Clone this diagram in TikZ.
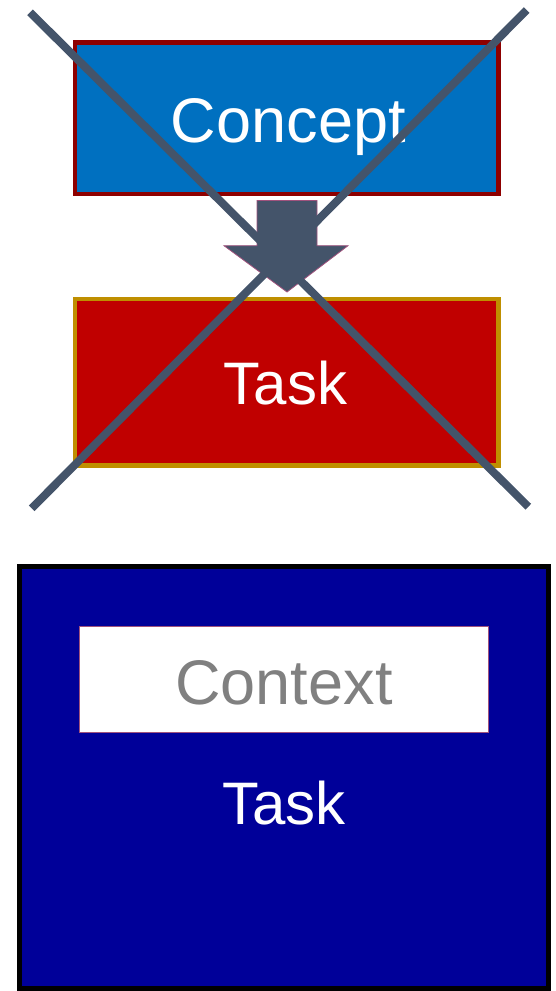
\documentclass[tikz,border=0pt]{standalone}
\usepackage{fontspec}
\setmainfont{Liberation Sans}
\definecolor{conceptfill}{HTML}{0070C0}
\definecolor{conceptedge}{HTML}{8E0000}
\definecolor{taskfill}{HTML}{C00000}
\definecolor{taskedge}{HTML}{BF8F00}
\definecolor{bigfill}{HTML}{000099}
\definecolor{slate}{HTML}{44546A}
\definecolor{pinkedge}{HTML}{A0527D}
\definecolor{ctxgray}{HTML}{808080}
\tikzset{
  boxnode/.style={rectangle, inner sep=0pt, outer sep=0pt},
  bigtext/.style={inner sep=0pt, anchor=base, font=\fontsize{63}{63}\selectfont},
  tasktext/.style={inner sep=0pt, anchor=base, font=\fontsize{60}{60}\selectfont},
  crossline/.style={draw=slate, line width=8pt},
}
\begin{document}
\begin{tikzpicture}[x=1pt, y=-1pt]
\useasboundingbox (0,0) rectangle (555,991);
% Concept box
\node[boxnode, draw=conceptedge, line width=4.5pt, fill=conceptfill,
      minimum width=423.5pt, minimum height=151.5pt] (concept) at (286.75,118.25) {};
\node[bigtext, text=white] (conceptText) at (288.3,142.3) {Concept};
% Task (red) box
\node[boxnode, draw=taskedge, line width=4.5pt, fill=taskfill,
      minimum width=423.5pt, minimum height=166.5pt] (task) at (286.75,382.25) {};
\node[tasktext, text=white] (taskText) at (285.5,404) {Task};
% block arrow
\draw[fill=slate, draw=pinkedge, line width=0.8pt]
  (257,200.5) -- (317,200.5) -- (317,245.7) -- (348,245.7) -- (287,292)
  -- (224,245.7) -- (257,245.7) -- cycle;
% big box
\node[boxnode, draw=black, line width=5pt, fill=bigfill,
      minimum width=529pt, minimum height=422pt] (big) at (283.7,777.5) {};
% Context box
\node[boxnode, draw=pinkedge, line width=1pt, fill=white,
      minimum width=409pt, minimum height=106.5pt] (context) at (283.7,679.4) {};
\node[bigtext, text=ctxgray] (contextText) at (284,704) {Context};
\node[tasktext, text=white] (bigTaskText) at (283.7,824) {Task};
% cross
\coordinate (xa) at (30,12.3);
\coordinate (xb) at (528.3,506.7);
\coordinate (xc) at (526.7,10);
\coordinate (xd) at (31.7,508.3);
\draw[crossline] (xa) -- (xb);
\draw[crossline] (xc) -- (xd);
\end{tikzpicture}
\end{document}
